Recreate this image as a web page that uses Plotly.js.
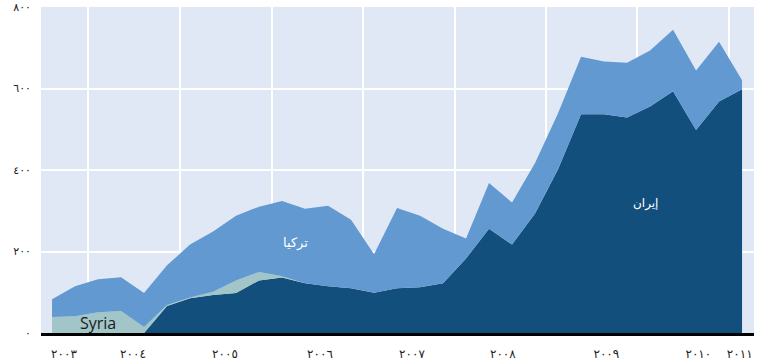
<!DOCTYPE html>
<html>
<head>
<meta charset="utf-8">
<script src="https://cdn.plot.ly/plotly-3.0.1.min.js"></script>
<style>html,body{margin:0;padding:0;background:#fff;}#chart{width:759px;height:360px;}</style>
</head>
<body>
<div id="chart"></div>
<script>
// quarterly points, index 0..30
const quarters = Array.from({length: 31}, (_, i) => i);
const iran   = [0,0,0,0,0,66,85,93,98,129,136,122,115,110,99,110,112,122,183,256,217,293,402,537,537,529,556,593,498,568,598];
const syria  = [39,41,51,54,15,3,2,8,31,21,3,0,0,0,0,0,0,0,0,0,0,0,0,0,0,0,0,0,0,0,0];
const turkey = [44,74,81,83,83,97,130,148,159,160,185,183,197,168,94,197,176,134,49,112,103,124,137,141,129,134,137,151,146,147,22];

const yearLabels = ['٢٠٠٣','٢٠٠٤','٢٠٠٥','٢٠٠٦','٢٠٠٧','٢٠٠٨','٢٠٠٩','٢٠١٠','٢٠١١'];
const yearLabelPos = [0.52,3.52,7.52,11.65,15.65,19.6,24.1,28.1,29.9];
const yearGridPos = [1.56,5.56,9.56,13.52,17.52,21.48,25.43,29.43];
const yTickVals = [0,200,400,600,800];
const yTickText = ['٠','٢٠٠','٤٠٠','٦٠٠','٨٠٠'];

const names = {iran: 'إيران', syria: 'Syria', turkey: 'تركيا'};

const traces = [
  {x: quarters, y: iran, name: names.iran, type: 'scatter', mode: 'lines', stackgroup: 'one',
   line: {width: 0, color: '#134f7d'}, fillcolor: '#134f7d', hoverinfo: 'skip'},
  {x: quarters, y: syria, name: names.syria, type: 'scatter', mode: 'lines', stackgroup: 'one',
   line: {width: 0, color: '#a2c5c7'}, fillcolor: '#a2c5c7', hoverinfo: 'skip'},
  {x: quarters, y: turkey, name: names.turkey, type: 'scatter', mode: 'lines', stackgroup: 'one',
   line: {width: 0, color: '#6199d0'}, fillcolor: '#6199d0', hoverinfo: 'skip'}
];

const xTickFont = {family: 'DejaVu Sans, sans-serif', size: 12, color: '#222'};
const yTickFont = {family: 'DejaVu Sans, sans-serif', size: 11, color: '#222'};

const layout = {
  width: 759, height: 360,
  margin: {l: 41, r: 5, t: 7, b: 27, pad: 0},
  paper_bgcolor: '#ffffff',
  plot_bgcolor: '#e1e8f5',
  showlegend: false,
  xaxis: {
    range: [-0.48, 30.52],
    tickmode: 'array', tickvals: yearLabelPos, ticktext: yearLabels,
    showgrid: false, zeroline: false,
    ticks: '', ticklabelstandoff: 8, ticklabeloverflow: 'allow',
    showline: true, linecolor: '#000', linewidth: 3,
    tickfont: xTickFont,
    minor: {tickmode: 'array', tickvals: yearGridPos, showgrid: true, gridcolor: '#ffffff', gridwidth: 2, ticks: ''}
  },
  yaxis: {
    range: [0, 800],
    tickmode: 'array', tickvals: yTickVals, ticktext: yTickText,
    showgrid: true, gridcolor: '#ffffff', gridwidth: 2,
    zeroline: false, ticks: '', ticklabelstandoff: 9, ticklabeloverflow: 'allow',
    tickfont: yTickFont
  },
  annotations: [
    {x: 2.0, y: 24, text: names.syria, showarrow: false, font: {family: 'Open Sans, sans-serif', size: 16, color: '#1a1a1a'}},
    {x: 10.6, y: 222, text: names.turkey, showarrow: false, font: {family: 'DejaVu Sans, sans-serif', size: 13, color: '#ffffff'}},
    {x: 25.8, y: 317, text: names.iran, showarrow: false, font: {family: 'DejaVu Sans, sans-serif', size: 12, color: '#ffffff'}}
  ]
};

Plotly.newPlot('chart', traces, layout, {displayModeBar: false, staticPlot: true});
</script>
</body>
</html>
